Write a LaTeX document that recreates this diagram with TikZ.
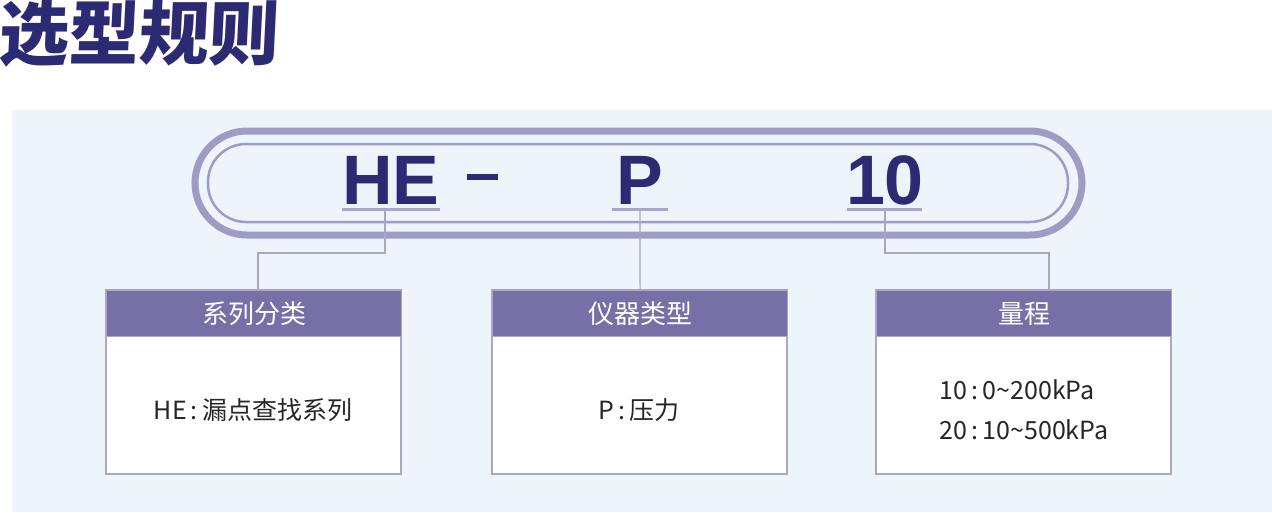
\documentclass[tikz,border=0pt]{standalone}
\usepackage{fontspec}
\setmainfont{Noto Sans CJK SC}
\newfontfamily\cjkb{Noto Sans CJK SC Black}
\newfontfamily\arialb{Liberation Sans}
\definecolor{navy}{HTML}{2B2A72}
\definecolor{panel}{HTML}{EEF5FA}
\definecolor{pill}{HTML}{9E9BC4}
\definecolor{hdr}{HTML}{7670A6}
\definecolor{bord}{HTML}{A9A6CA}
\definecolor{ln}{HTML}{A8A6C4}
\begin{document}
\begin{tikzpicture}[x=1pt,y=-1pt,
  hdrbox/.style={fill=hdr,draw=bord,line width=1.2pt,text=white,font=\fontsize{26}{28}\selectfont,inner sep=0pt},
  bodybox/.style={draw=bord,fill=white,line width=1.2pt,inner sep=0pt},
  btext/.style={font=\fontsize{25}{40}\selectfont,inner sep=0pt,text=black!85},
  big/.style={text=navy,font=\arialb\bfseries\fontsize{70}{70}\selectfont,inner sep=0pt},
  conn/.style={draw=ln,line width=1.2pt},
  uline/.style={draw=bord,line width=3pt}]
\useasboundingbox (0,0) rectangle (1272,512);
\fill[white] (0,0) rectangle (1272,512);
\fill[panel] (12,110) rectangle (1272,512);
\node[anchor=west,text=navy,font=\cjkb\fontsize{70}{72}\selectfont,inner sep=0pt,xslant=0.05] (title) at (0,34) {选型规则};
% pill
\draw[pill,line width=7pt,rounded corners=52pt] (195,131) rectangle (1082,235);
\draw[pill,line width=2.5pt,rounded corners=38pt] (208,144) rectangle (1068,222);
\node[big] (he) at (391,180) {HE};
\fill[navy] (467,174) rectangle (498,180);
\node[big] (p) at (640,180) {P};
\node[big] (ten) at (885,180) {10};
\draw[uline] (342,209) -- (440,209);
\draw[uline] (612,209) -- (668,209);
\draw[uline] (847,209) -- (922,209);
\coordinate (u1) at (385,210);
\coordinate (u2) at (640,210);
\coordinate (u3) at (885,210);
% boxes
\foreach \n/\x/\h in {a/106/系列分类,b/492/仪器类型,c/876/量程}{
  \draw[bodybox] (\x,290) rectangle ++(295,184);
  \node[hdrbox,minimum width=295pt,minimum height=46pt,anchor=north west] (\n h) at (\x,290) {\h};
}
\node[btext] (ta) at (253,410) {HE\,:\,漏点查找系列};
\node[btext] (tb) at (639,410) {P\,:\,压力};
\node[btext,align=left] (tc) at (1024,410) {10\,:\,0\textasciitilde200kPa\\20\,:\,10\textasciitilde500kPa};
\draw[conn] (u1) -- (385,253) -| (258,290);
\draw[conn] (u2) -- (bh.north);
\draw[conn] (u3) -- (885,253) -| (1049,290);
\end{tikzpicture}
\end{document}
